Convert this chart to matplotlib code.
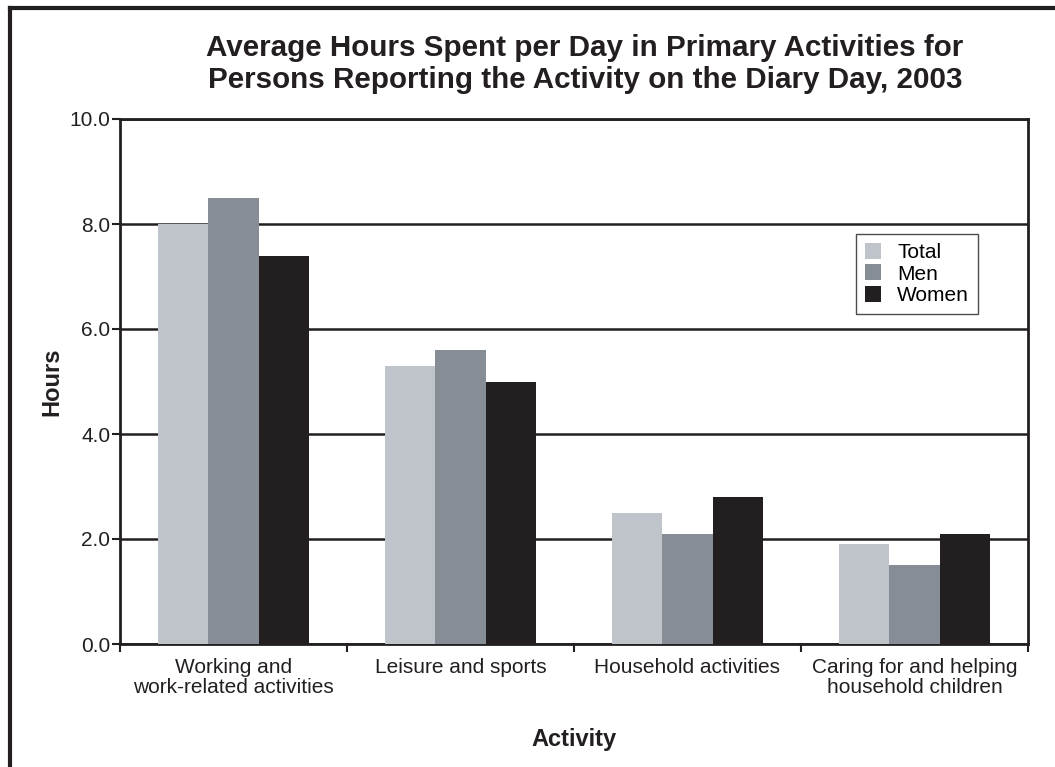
import numpy as np
import matplotlib
matplotlib.use("Agg")
import matplotlib.pyplot as plt
from matplotlib.lines import Line2D

plt.rcParams['font.family'] = ['Liberation Sans', 'DejaVu Sans']

# data
activities = ["Working and\nwork-related activities", "Leisure and sports",
              "Household activities", "Caring for and helping\nhousehold children"]
total = [8.0, 5.3, 2.5, 1.9]
men = [8.5, 5.6, 2.1, 1.5]
women = [7.4, 5.0, 2.8, 2.1]
series_names = ["Total", "Men", "Women"]
colors = ["#bfc3ca", "#878d94", "#231f20"]
y_ticks = [0.0, 2.0, 4.0, 6.0, 8.0, 10.0]

fig = plt.figure(figsize=(10.55, 7.67), dpi=100)
ax = fig.add_axes([120 / 1055, 1 - 644 / 767, (1028 - 120) / 1055, (644 - 119) / 767])

# outer frame (top and left edges only visible)
fig.add_artist(Line2D([10 / 1055, 1.0], [1 - 8 / 767, 1 - 8 / 767], color="#231f20", lw=3,
                      transform=fig.transFigure))
fig.add_artist(Line2D([10 / 1055, 10 / 1055], [0.0, 1 - 8 / 767], color="#231f20", lw=3,
                      transform=fig.transFigure))

x = np.arange(len(activities))
w = 0.223
for i, (vals, name, c) in enumerate(zip([total, men, women], series_names, colors)):
    ax.bar(x + (i - 1) * w, vals, width=w, color=c, label=name, zorder=3)

ax.set_xlim(-0.5, len(activities) - 0.5)
ax.set_ylim(0, 10)
ax.set_yticks(y_ticks)
ax.set_yticklabels([f"{v:.1f}" for v in y_ticks], fontsize=15)
ax.yaxis.grid(True, color="#231f20", lw=1.8, zorder=1)

ax.set_xticks(x)
ax.set_xticklabels(activities, fontsize=15, color="#231f20", linespacing=1.1)
ax.set_xticks(np.arange(len(activities) + 1) - 0.5, minor=True)
ax.tick_params(axis="x", which="major", length=0, pad=10)
ax.tick_params(axis="x", which="minor", length=6, width=1.5, color="#231f20")
ax.tick_params(axis="y", length=6, width=1.5, color="#231f20", pad=1, labelcolor="#231f20")

for s in ax.spines.values():
    s.set_color("#231f20")
    s.set_linewidth(2)

ax.set_ylabel("Hours", fontsize=17, fontweight="bold", labelpad=4, color="#231f20")
ax.set_xlabel("Activity", fontsize=17, fontweight="bold", labelpad=22, color="#231f20")

fig.text(585 / 1055, 1 - 64 / 767,
         "Average Hours Spent per Day in Primary Activities for\n"
         "Persons Reporting the Activity on the Diary Day, 2003",
         ha="center", va="center", fontsize=21.3, fontweight="bold", color="#231f20",
         linespacing=1.18)

leg = ax.legend(loc="upper left", bbox_to_anchor=((856 - 120) / 908, 1 - (234 - 119) / 525),
                fontsize=15, frameon=True, fancybox=False, handlelength=0.8, handleheight=0.8,
                handletextpad=0.75, borderpad=0.42, labelspacing=0.12, borderaxespad=0)
leg.get_frame().set_edgecolor("#231f20")
leg.get_frame().set_linewidth(1)
leg.set_zorder(5)

fig.savefig("out.png", dpi=100)
